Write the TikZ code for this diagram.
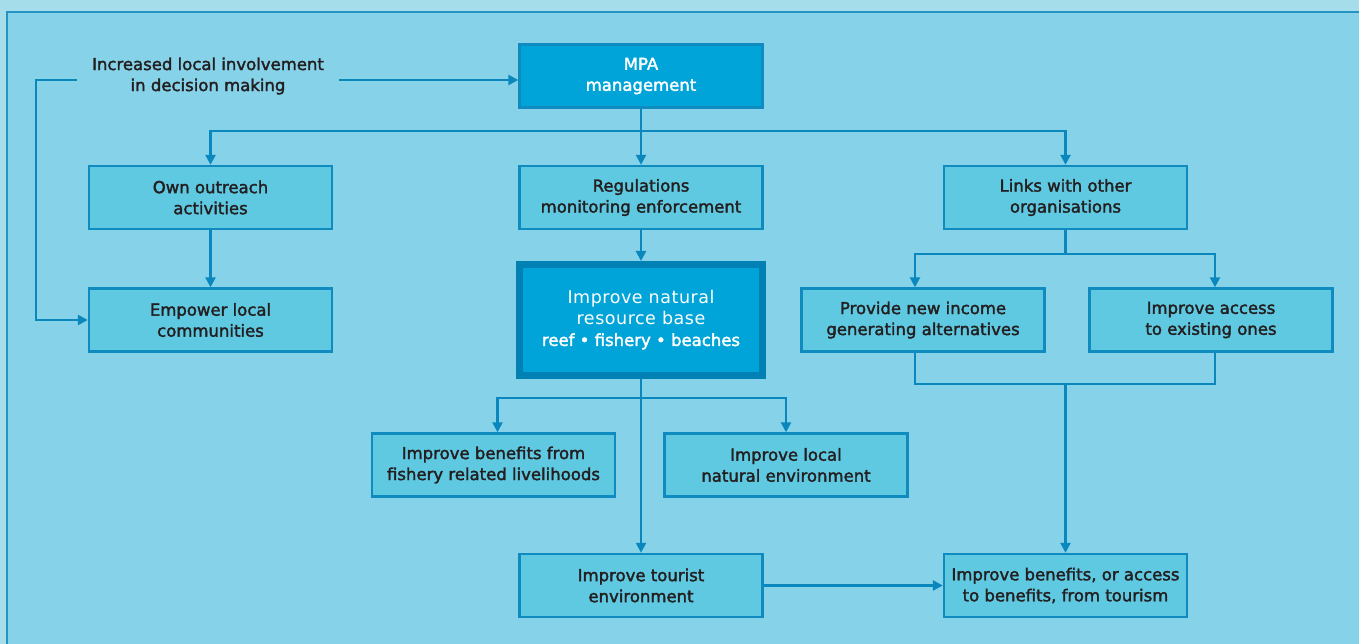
\documentclass[tikz,border=0pt]{standalone}
\usepackage{fontspec}
\setmainfont{DejaVu Sans}
\newfontfamily\medfont[FakeBold=2]{DejaVu Sans}
\newfontfamily\widefont[LetterSpace=3]{DejaVu Sans}
\usetikzlibrary{positioning,arrows.meta,calc}

\definecolor{outerbg}{HTML}{A6DDEA}
\definecolor{panelbg}{HTML}{85D2E9}
\definecolor{panelline}{HTML}{2495C3}
\definecolor{boxfill}{HTML}{5FC9E2}
\definecolor{boxline}{HTML}{0F8BC0}
\definecolor{mainfill}{HTML}{00A4D8}
\definecolor{bigline}{HTML}{0080B3}
\definecolor{linkline}{HTML}{0A88BE}
\definecolor{textdark}{HTML}{231F20}

\tikzset{
  box/.style={draw=boxline, fill=boxfill, line width=2.4pt, minimum width=243pt, minimum height=63pt,
    inner sep=0pt, align=center, text=textdark, font=\medfont\fontsize{16.5}{21}\selectfont},
  mainbox/.style={box, fill=mainfill, text=white},
  bigbox/.style={box, draw=bigline, fill=mainfill, line width=7pt, minimum width=243pt,
    minimum height=111pt, text=white, font=\widefont\fontsize{17.5}{21}\selectfont},
  link/.style={draw=linkline, line width=2.4pt},
  arrow/.style={link, -{Triangle[length=10pt,width=10pt]}}
}

\begin{document}
\begin{tikzpicture}[x=1pt,y=-1pt]
  \useasboundingbox (0,0) rectangle (1359,644);
  \fill[outerbg] (0,0) rectangle (1359,644);
  \fill[panelbg] (6,11) rectangle (1359,644);
  \draw[panelline, line width=2pt] (7,644) -- (7,12) -- (1359,12);

  % top row
  \node[mainbox] (mpa) at (641,76) {MPA\\management};
  \node[align=center, text=textdark, inner xsep=15pt, inner ysep=0pt,
        font=\medfont\fontsize{16.5}{21}\selectfont] (involve) at (208,76)
        {Increased local involvement\\in decision making};

  % second row
  \node[box] (outreach) at (210.5,197.5) {Own outreach\\activities};
  \node[box] (regul) at (641,197.5) {Regulations\\monitoring enforcement};
  \node[box] (links) at (1065.5,197.5) {Links with other\\organisations};

  % third row
  \node[box] (empower) at (210.5,320) {Empower local\\communities};
  \node[bigbox] (resource) at (641,320)
        {Improve natural\\resource base\\{\medfont\fontsize{16.5}{21}\selectfont reef \textbullet{} fishery \textbullet{} beaches}};
  \node[box] (income) at (923,320) {Provide new income\\generating alternatives};
  \node[box] (access) at (1211,320) {Improve access\\to existing ones};

  % fourth row
  \node[box] (fishery) at (493.5,465) {Improve benefits from\\fishery related livelihoods};
  \node[box] (localenv) at (786,465) {Improve local\\natural environment};

  % bottom row
  \node[box] (tourist) at (641,585.5) {Improve tourist\\environment};
  \node[box] (tourism) at (1065.5,585.5) {Improve benefits, or access\\to benefits, from tourism};

  \coordinate (corner) at (36,80);
  \coordinate (split1) at (641,131);
  \coordinate (split2) at (1065.5,254);
  \coordinate (split3) at (641,398);
  \coordinate (join) at (1065.5,384);

  \draw[arrow] ([yshift=-4pt]involve.east) -- ([yshift=-4pt]mpa.west);
  \draw[arrow] ([yshift=-4pt]involve.west) -- (corner) |- (empower.west);

  \draw[link] (mpa) -- (split1);
  \draw[arrow] (split1) -| (outreach);
  \draw[arrow] (split1) -- (regul);
  \draw[arrow] (split1) -| (links);

  \draw[arrow] (outreach) -- (empower);
  \draw[arrow] (regul) -- (resource);

  \draw[link] (links) -- (split2);
  \draw[arrow] (split2) -| ([xshift=-8pt]income.north);
  \draw[arrow] (split2) -| ([xshift=4pt]access.north);
  \draw[link] ([xshift=-8pt]income.south) |- (join) -| ([xshift=4pt]access.south);
  \draw[arrow] (join) -- (tourism);

  \draw[arrow] (resource) -- (tourist);
  \draw[arrow] (split3) -| ([xshift=4pt]fishery.north);
  \draw[arrow] (split3) -| (localenv);

  \draw[arrow] (tourist) -- (tourism);
\end{tikzpicture}
\end{document}
